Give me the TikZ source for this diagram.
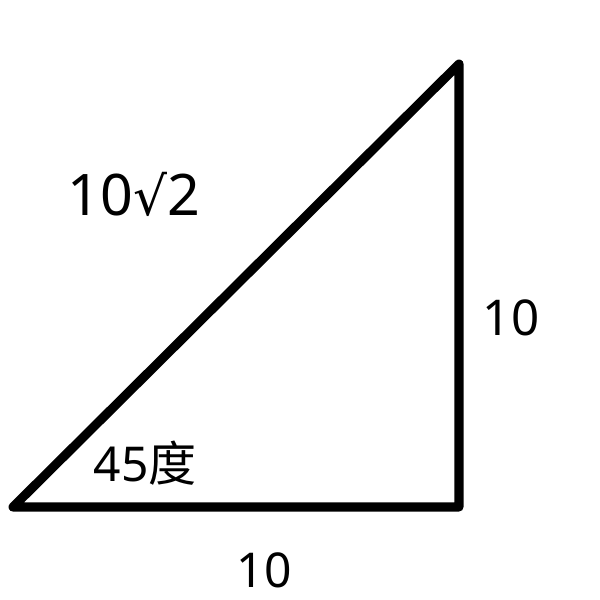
\documentclass[tikz,border=0pt]{standalone}
\usepackage{fontspec}
\setmainfont{Noto Sans}
\newfontfamily\cjkfont{Noto Sans CJK SC}
\newfontfamily\symfont{DejaVu Sans}
\begin{document}
\begin{tikzpicture}[x=0.75pt,y=-0.75pt,
  edge/.style={line width=6.8pt,line join=round,line cap=round},
  lbl/.style={inner sep=0pt,anchor=center}]
\useasboundingbox (0,0) rectangle (600,600);
\coordinate (A) at (13,507);
\coordinate (B) at (459,507);
\coordinate (C) at (459,64);
\draw[edge] (A) -- (B) -- (C) -- cycle;
\node[lbl,font=\fontsize{43}{48}\selectfont] (hyp) at (134,194) {10{\symfont\fontsize{40}{44}\selectfont √}2};
\node[lbl,font=\fontsize{37}{40}\selectfont] (rt) at (511,318) {10};
\node[lbl,font=\fontsize{36}{40}\selectfont] (ang) at (145,463) {45{\cjkfont 度}};
\node[lbl,font=\fontsize{36}{40}\selectfont] (bt) at (264,570) {10};
\end{tikzpicture}
\end{document}
